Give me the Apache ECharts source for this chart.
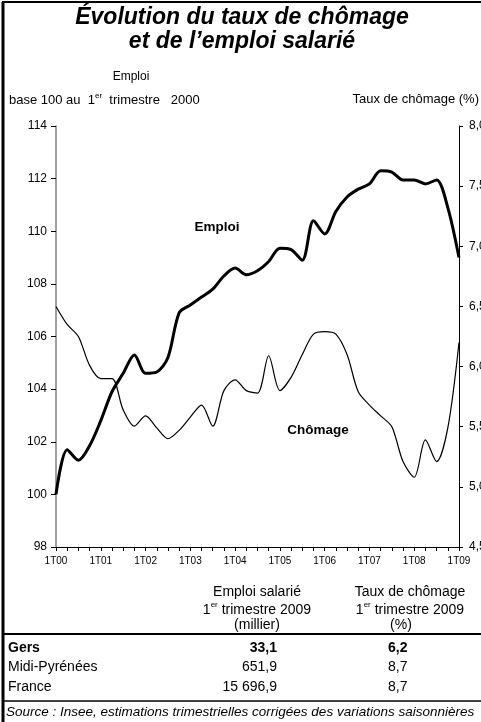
<!DOCTYPE html>
<html><head><meta charset="utf-8">
<script src="https://cdn.jsdelivr.net/npm/echarts@6/dist/echarts.min.js"></script>
<style>html,body{margin:0;padding:0;background:#fff}#c{width:481px;height:722px}</style>
</head><body><div id="c"></div>
<script>
var quarters = [];
var years = ['00','01','02','03','04','05','06','07','08','09'];
for (var y = 0; y < years.length; y++) { for (var q = 1; q <= 4; q++) { if (y === 9 && q > 1) break; quarters.push(q + 'T' + years[y]); } }
var emploi = [100.0,101.7,101.3,101.85,102.8,103.9,104.6,105.3,104.6,104.65,105.2,106.9,107.2,107.5,107.8,108.3,108.6,108.35,108.5,108.85,109.35,109.3,108.9,110.4,109.9,110.75,111.3,111.6,111.8,112.3,112.25,111.95,111.95,111.8,111.95,110.9,109.0];
var chomage = [6.50,6.35,6.25,6.01,5.90,5.90,5.64,5.505,5.59,5.49,5.40,5.47,5.58,5.68,5.505,5.80,5.89,5.80,5.78,6.09,5.80,5.91,6.10,6.27,6.29,6.27,6.10,5.79,5.68,5.59,5.50,5.21,5.08,5.39,5.21,5.49,6.20];
var rowNames = ['Gers','Midi-Pyrénées','France'];
var emploiSal = ['33,1','651,9','15 696,9'];
var tauxCh = ['6,2','8,7','8,7'];

var F = 'Liberation Sans, Arial, sans-serif';
var chart = echarts.init(document.getElementById('c'));
var g = [];
function txt(x, y, t, opt) {
  var s = Object.assign({text: t, x: x, y: y, fill: '#000', font: '12px ' + F, textAlign: 'left', textVerticalAlign: 'middle'}, opt || {});
  g.push({type: 'text', style: s, z: 10});
}
function sup(x, y, align, fs) {
  g.push({type: 'text', z: 10, style: {x: x, y: y, text: '{a|1}{s|er}{a| trimestre 2009}', textAlign: align, textVerticalAlign: 'middle',
    rich: {a: {fontSize: fs, fontFamily: F, lineHeight: 17, verticalAlign: 'bottom'}, s: {fontSize: 8, fontFamily: F, lineHeight: 17, verticalAlign: 'top'}}}});
}
// frame
g.push({type: 'line', shape: {x1: 3, y1: 2, x2: 3, y2: 722}, style: {stroke: '#000', lineWidth: 3}});
g.push({type: 'line', shape: {x1: 2, y1: 2, x2: 481, y2: 2}, style: {stroke: '#000', lineWidth: 2}});
g.push({type: 'line', shape: {x1: 2, y1: 634, x2: 481, y2: 634}, style: {stroke: '#000', lineWidth: 2}});
g.push({type: 'line', shape: {x1: 2, y1: 701, x2: 481, y2: 701}, style: {stroke: '#000', lineWidth: 1.5}});
// title
txt(242, 18, 'Évolution du taux de chômage', {textAlign: 'center', font: 'italic bold 23px ' + F});
txt(242, 42, 'et de l\u2019emploi salarié', {textAlign: 'center', font: 'italic bold 23px ' + F});
txt(131, 77, 'Emploi', {textAlign: 'center', font: '12px ' + F});
g.push({type: 'text', z: 10, style: {x: 9, y: 99, text: '{a|base 100 au  1}{s|er}{a|  trimestre   2000}', textVerticalAlign: 'middle',
  rich: {a: {fontSize: 13, fontFamily: F, lineHeight: 15, verticalAlign: 'bottom'}, s: {fontSize: 8, fontFamily: F, lineHeight: 15, verticalAlign: 'top'}}}});
txt(479, 99, 'Taux de chômage (%)', {textAlign: 'right', font: '13px ' + F});
// annotations
txt(217, 227, 'Emploi', {textAlign: 'center', font: 'bold 13.5px ' + F});
txt(318, 430, 'Chômage', {textAlign: 'center', font: 'bold 13.5px ' + F});
// table header
txt(257, 592, 'Emploi salarié', {textAlign: 'center', font: '14px ' + F});
sup(257, 609, 'center', 14);
txt(257, 625, '(millier)', {textAlign: 'center', font: '14px ' + F});
txt(410, 592, 'Taux de chômage', {textAlign: 'center', font: '14px ' + F});
sup(410, 609, 'center', 14);
txt(401, 625, '(%)', {textAlign: 'center', font: '14px ' + F});
var rowY = [648, 667, 687];
for (var i = 0; i < rowNames.length; i++) {
  var f = (i === 0 ? 'bold ' : '') + '14px ' + F;
  txt(8, rowY[i], rowNames[i], {font: f});
  txt(277, rowY[i], emploiSal[i], {font: f, textAlign: 'right'});
  txt(388, rowY[i], tauxCh[i], {font: f});
}
txt(6, 712, 'Source : Insee, estimations trimestrielles corrigées des variations saisonnières', {font: 'italic 13.5px ' + F});

chart.setOption({
  animation: false,
  backgroundColor: '#fff',
  grid: {left: 56, right: 22, top: 126, bottom: 175, containLabel: false, outerBoundsMode: 'none'},
  xAxis: {type: 'category', data: quarters, boundaryGap: false,
    axisLine: {lineStyle: {color: '#000', width: 1}},
    axisTick: {show: true, interval: 0, length: 4, lineStyle: {color: '#000'}},
    axisLabel: {interval: 3, color: '#000', fontSize: 10, fontFamily: F, margin: 9}},
  yAxis: [
    {type: 'value', min: 98, max: 114, interval: 2, splitLine: {show: false},
      axisLine: {show: true, lineStyle: {color: '#808080', width: 1.5}},
      axisTick: {show: true, length: 5, lineStyle: {color: '#000'}},
      axisLabel: {color: '#000', fontSize: 12, fontFamily: F, margin: 9}},
    {type: 'value', min: 4.5, max: 8, interval: 0.5, splitLine: {show: false}, position: 'right',
      axisLine: {show: true, lineStyle: {color: '#000', width: 1}},
      axisTick: {show: true, length: 4, lineStyle: {color: '#000'}},
      axisLabel: {color: '#000', fontSize: 12, fontFamily: F, margin: 10, formatter: function (v) { return v.toFixed(1).replace('.', ','); }}}
  ],
  series: [
    {type: 'line', data: emploi, yAxisIndex: 0, smooth: 0.3, symbol: 'none', lineStyle: {color: '#000', width: 3}, z: 3},
    {type: 'line', data: chomage, yAxisIndex: 1, smooth: 0.3, symbol: 'none', lineStyle: {color: '#000', width: 1.2}, z: 2}
  ],
  graphic: g
});
</script></body></html>
